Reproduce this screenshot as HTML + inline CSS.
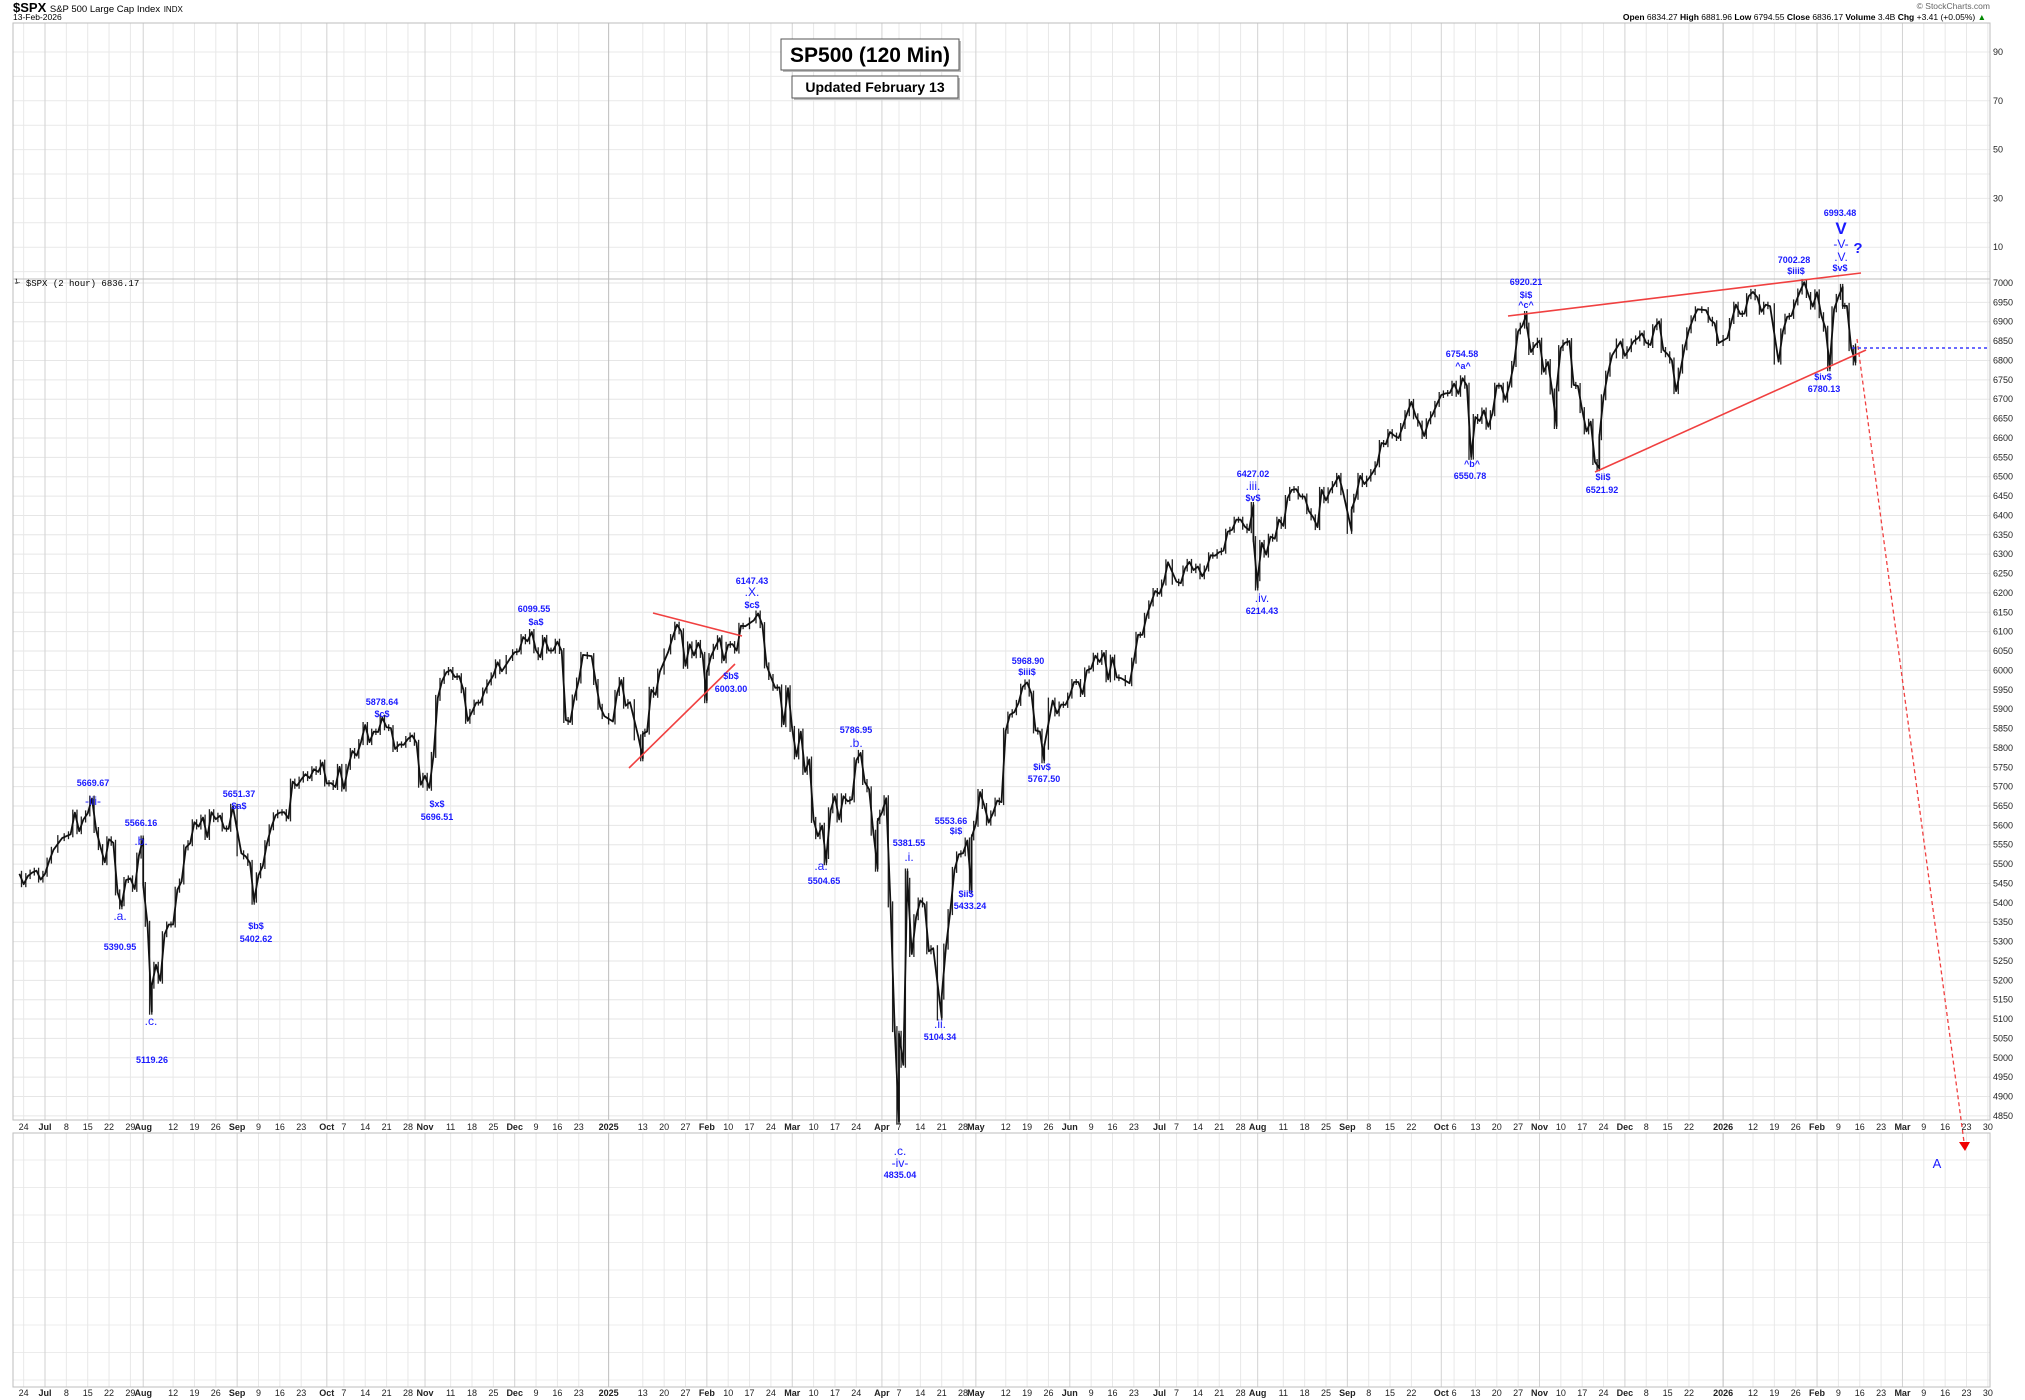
<!DOCTYPE html>
<html><head><meta charset="utf-8"><style>
html,body{margin:0;padding:0;background:#fff;}
svg{display:block;font-family:"Liberation Sans",Arial,sans-serif;}
.lb{fill:#1a1aff;font-weight:bold;font-size:9px;text-anchor:middle;}
.wv{fill:#1a1aff;font-size:12px;text-anchor:middle;}
.ax{font-size:9px;fill:#222;}
</style></head><body>
<svg id="chart" width="2025" height="1400" viewBox="0 0 2025 1400" xmlns="http://www.w3.org/2000/svg">
<rect width="2025" height="1400" fill="#fff"/>
<g id="grid"></g>
<g id="axes"></g>
<g id="series"></g>
<g>
<text x="13" y="12" font-size="13" font-weight="bold">$SPX <tspan font-size="9.5" font-weight="normal">S&amp;P 500 Large Cap Index</tspan> <tspan font-size="8" font-weight="normal">INDX</tspan></text>
<text x="13" y="20" font-size="8.5">13-Feb-2026</text>
<text x="1990" y="9" font-size="8.5" fill="#666" text-anchor="end">© StockCharts.com</text>
<text x="1986" y="20" font-size="8.5" text-anchor="end"><tspan font-weight="bold">Open</tspan> 6834.27 <tspan font-weight="bold">High</tspan> 6881.96 <tspan font-weight="bold">Low</tspan> 6794.55 <tspan font-weight="bold">Close</tspan> 6836.17 <tspan font-weight="bold">Volume</tspan> 3.4B <tspan font-weight="bold">Chg</tspan> +3.41 (+0.05%) <tspan fill="#080">▲</tspan></text>
<text x="15" y="286" font-size="9" font-family="Liberation Mono,monospace">⅟ $SPX (2 hour) 6836.17</text>
</g>
<g>
<rect x="783" y="41" width="178" height="31" fill="#bbb"/>
<rect x="781" y="39" width="178" height="31" fill="#fff" stroke="#555"/>
<text x="870" y="62" font-size="21" font-weight="bold" text-anchor="middle">SP500 (120 Min)</text>
<rect x="794" y="78" width="166" height="22" fill="#bbb"/>
<rect x="792" y="76" width="166" height="22" fill="#fff" stroke="#555"/>
<text x="875" y="92" font-size="14" font-weight="bold" text-anchor="middle">Updated February 13</text>
</g>
<g stroke="#f04040" stroke-width="1.6" fill="none">
<line x1="653" y1="613" x2="742" y2="636"/>
<line x1="629" y1="768" x2="735" y2="664"/>
<line x1="1508" y1="316" x2="1861" y2="273"/>
<line x1="1595" y1="472" x2="1866" y2="350"/>
<line x1="1857" y1="339" x2="1964" y2="1142" stroke-dasharray="4,3" stroke-width="1.3"/>
</g>
<polygon points="1959,1142 1970,1142 1965,1151" fill="#f00000"/>
<line x1="1852" y1="348" x2="1990" y2="348" stroke="#3a3aff" stroke-width="1.6" stroke-dasharray="3,3"/>
<g>
<text class="lb" x="93" y="786">5669.67</text><text class="wv" x="93" y="805">-iii-</text>
<text class="lb" x="141" y="826">5566.16</text><text class="wv" x="141" y="845">.b.</text>
<text class="wv" x="120" y="920">.a.</text><text class="lb" x="120" y="950">5390.95</text>
<text class="wv" x="151" y="1025">.c.</text><text class="lb" x="152" y="1063">5119.26</text>
<text class="lb" x="239" y="797">5651.37</text><text class="lb" x="239" y="809">$a$</text>
<text class="lb" x="256" y="929">$b$</text><text class="lb" x="256" y="942">5402.62</text>
<text class="lb" x="382" y="705">5878.64</text><text class="lb" x="382" y="717">$c$</text>
<text class="lb" x="437" y="807">$x$</text><text class="lb" x="437" y="820">5696.51</text>
<text class="lb" x="534" y="612">6099.55</text><text class="lb" x="536" y="625">$a$</text>
<text class="lb" x="752" y="584">6147.43</text><text class="wv" x="752" y="596">.X.</text><text class="lb" x="752" y="608">$c$</text>
<text class="lb" x="731" y="679">$b$</text><text class="lb" x="731" y="692">6003.00</text>
<text class="lb" x="856" y="733">5786.95</text><text class="wv" x="856" y="747">.b.</text>
<text class="wv" x="821" y="870">.a.</text><text class="lb" x="824" y="884">5504.65</text>
<text class="lb" x="909" y="846">5381.55</text><text class="wv" x="909" y="861">.i.</text>
<text class="lb" x="951" y="824">5553.66</text><text class="lb" x="956" y="834">$i$</text>
<text class="lb" x="966" y="897">$ii$</text><text class="lb" x="970" y="909">5433.24</text>
<text class="wv" x="940" y="1028">.ii.</text><text class="lb" x="940" y="1040">5104.34</text>
<text class="lb" x="1028" y="664">5968.90</text><text class="lb" x="1027" y="675">$iii$</text>
<text class="lb" x="1042" y="770">$iv$</text><text class="lb" x="1044" y="782">5767.50</text>
<text class="wv" x="900" y="1155">.c.</text><text class="wv" x="900" y="1167">-iv-</text><text class="lb" x="900" y="1178">4835.04</text>
<text class="lb" x="1253" y="477">6427.02</text><text class="wv" x="1253" y="490">.iii.</text><text class="lb" x="1253" y="501">$v$</text>
<text class="wv" x="1262" y="602">.iv.</text><text class="lb" x="1262" y="614">6214.43</text>
<text class="lb" x="1462" y="357">6754.58</text><text class="lb" x="1463" y="369">^a^</text>
<text class="lb" x="1472" y="467">^b^</text><text class="lb" x="1470" y="479">6550.78</text>
<text class="lb" x="1526" y="285">6920.21</text><text class="lb" x="1526" y="298">$i$</text><text class="lb" x="1526" y="308">^c^</text>
<text class="lb" x="1603" y="480">$ii$</text><text class="lb" x="1602" y="493">6521.92</text>
<text class="lb" x="1794" y="263">7002.28</text><text class="lb" x="1796" y="274">$iii$</text>
<text class="lb" x="1840" y="216">6993.48</text>
<text x="1841" y="234" fill="#1a1aff" font-size="17" font-weight="bold" text-anchor="middle">V</text>
<text class="wv" x="1841" y="248">-V-</text>
<text x="1858" y="253" fill="#1a1aff" font-size="15" font-weight="bold" text-anchor="middle">?</text>
<text class="wv" x="1841" y="261">.V.</text>
<text class="lb" x="1840" y="271">$v$</text>
<text class="lb" x="1823" y="380">$iv$</text><text class="lb" x="1824" y="392">6780.13</text>
<text x="1937" y="1168" fill="#1a1aff" font-size="13" text-anchor="middle">A</text>
</g>
<script>
const dates = ["2024-06-21","2024-06-24","2024-06-25","2024-06-26","2024-06-27","2024-06-28","2024-07-01","2024-07-02","2024-07-03","2024-07-05","2024-07-08","2024-07-09","2024-07-10","2024-07-11","2024-07-12","2024-07-15","2024-07-16","2024-07-17","2024-07-18","2024-07-19","2024-07-22","2024-07-23","2024-07-24","2024-07-25","2024-07-25","2024-07-26","2024-07-29","2024-07-30","2024-07-31","2024-08-01","2024-08-01","2024-08-02","2024-08-05","2024-08-05","2024-08-06","2024-08-07","2024-08-08","2024-08-09","2024-08-12","2024-08-13","2024-08-14","2024-08-15","2024-08-16","2024-08-19","2024-08-20","2024-08-21","2024-08-22","2024-08-23","2024-08-26","2024-08-27","2024-08-28","2024-08-29","2024-08-30","2024-09-03","2024-09-04","2024-09-05","2024-09-06","2024-09-06","2024-09-09","2024-09-10","2024-09-11","2024-09-12","2024-09-13","2024-09-16","2024-09-17","2024-09-18","2024-09-19","2024-09-20","2024-09-23","2024-09-24","2024-09-25","2024-09-26","2024-09-27","2024-09-30","2024-10-01","2024-10-02","2024-10-03","2024-10-04","2024-10-07","2024-10-08","2024-10-09","2024-10-10","2024-10-11","2024-10-14","2024-10-15","2024-10-16","2024-10-17","2024-10-18","2024-10-21","2024-10-22","2024-10-23","2024-10-24","2024-10-25","2024-10-28","2024-10-29","2024-10-30","2024-10-31","2024-11-01","2024-11-04","2024-11-05","2024-11-06","2024-11-07","2024-11-08","2024-11-11","2024-11-12","2024-11-13","2024-11-14","2024-11-15","2024-11-18","2024-11-19","2024-11-20","2024-11-21","2024-11-22","2024-11-25","2024-11-26","2024-11-27","2024-11-29","2024-12-02","2024-12-03","2024-12-04","2024-12-05","2024-12-06","2024-12-09","2024-12-10","2024-12-11","2024-12-12","2024-12-13","2024-12-16","2024-12-17","2024-12-18","2024-12-19","2024-12-20","2024-12-23","2024-12-24","2024-12-26","2024-12-27","2024-12-30","2024-12-31","2025-01-02","2025-01-03","2025-01-06","2025-01-07","2025-01-08","2025-01-10","2025-01-13","2025-01-13","2025-01-14","2025-01-15","2025-01-16","2025-01-17","2025-01-21","2025-01-22","2025-01-23","2025-01-24","2025-01-27","2025-01-28","2025-01-29","2025-01-30","2025-01-31","2025-02-03","2025-02-03","2025-02-04","2025-02-05","2025-02-06","2025-02-07","2025-02-10","2025-02-11","2025-02-12","2025-02-13","2025-02-14","2025-02-18","2025-02-19","2025-02-20","2025-02-21","2025-02-24","2025-02-25","2025-02-26","2025-02-27","2025-02-28","2025-03-03","2025-03-04","2025-03-05","2025-03-06","2025-03-07","2025-03-10","2025-03-11","2025-03-12","2025-03-13","2025-03-13","2025-03-14","2025-03-17","2025-03-18","2025-03-19","2025-03-20","2025-03-21","2025-03-24","2025-03-25","2025-03-26","2025-03-27","2025-03-28","2025-03-31","2025-03-31","2025-04-01","2025-04-02","2025-04-03","2025-04-04","2025-04-07","2025-04-07","2025-04-08","2025-04-09","2025-04-09","2025-04-10","2025-04-11","2025-04-14","2025-04-15","2025-04-16","2025-04-17","2025-04-21","2025-04-21","2025-04-22","2025-04-23","2025-04-24","2025-04-25","2025-04-28","2025-04-29","2025-04-30","2025-04-30","2025-05-01","2025-05-02","2025-05-05","2025-05-06","2025-05-07","2025-05-08","2025-05-09","2025-05-12","2025-05-13","2025-05-14","2025-05-15","2025-05-16","2025-05-19","2025-05-20","2025-05-21","2025-05-22","2025-05-23","2025-05-23","2025-05-27","2025-05-28","2025-05-29","2025-05-30","2025-06-02","2025-06-03","2025-06-04","2025-06-05","2025-06-06","2025-06-09","2025-06-10","2025-06-11","2025-06-12","2025-06-13","2025-06-16","2025-06-17","2025-06-18","2025-06-20","2025-06-23","2025-06-24","2025-06-25","2025-06-26","2025-06-27","2025-06-30","2025-07-01","2025-07-02","2025-07-03","2025-07-07","2025-07-08","2025-07-09","2025-07-10","2025-07-11","2025-07-14","2025-07-15","2025-07-16","2025-07-17","2025-07-18","2025-07-21","2025-07-22","2025-07-23","2025-07-24","2025-07-25","2025-07-28","2025-07-29","2025-07-30","2025-07-31","2025-07-31","2025-08-01","2025-08-01","2025-08-04","2025-08-05","2025-08-06","2025-08-07","2025-08-08","2025-08-11","2025-08-12","2025-08-13","2025-08-14","2025-08-15","2025-08-18","2025-08-19","2025-08-20","2025-08-21","2025-08-22","2025-08-25","2025-08-26","2025-08-27","2025-08-28","2025-08-29","2025-09-02","2025-09-02","2025-09-03","2025-09-04","2025-09-05","2025-09-08","2025-09-09","2025-09-10","2025-09-11","2025-09-12","2025-09-15","2025-09-16","2025-09-17","2025-09-18","2025-09-19","2025-09-22","2025-09-23","2025-09-24","2025-09-25","2025-09-26","2025-09-29","2025-09-30","2025-10-01","2025-10-02","2025-10-03","2025-10-06","2025-10-07","2025-10-08","2025-10-09","2025-10-10","2025-10-10","2025-10-13","2025-10-14","2025-10-15","2025-10-16","2025-10-17","2025-10-20","2025-10-21","2025-10-22","2025-10-23","2025-10-24","2025-10-27","2025-10-28","2025-10-29","2025-10-29","2025-10-30","2025-10-31","2025-11-03","2025-11-04","2025-11-05","2025-11-06","2025-11-07","2025-11-07","2025-11-10","2025-11-11","2025-11-12","2025-11-13","2025-11-14","2025-11-17","2025-11-18","2025-11-19","2025-11-20","2025-11-21","2025-11-21","2025-11-24","2025-11-25","2025-11-26","2025-11-28","2025-12-01","2025-12-02","2025-12-03","2025-12-04","2025-12-05","2025-12-08","2025-12-09","2025-12-10","2025-12-11","2025-12-12","2025-12-15","2025-12-16","2025-12-17","2025-12-18","2025-12-19","2025-12-22","2025-12-23","2025-12-24","2025-12-26","2025-12-29","2025-12-30","2025-12-31","2026-01-02","2026-01-05","2026-01-06","2026-01-07","2026-01-08","2026-01-09","2026-01-12","2026-01-13","2026-01-14","2026-01-15","2026-01-16","2026-01-20","2026-01-21","2026-01-22","2026-01-23","2026-01-26","2026-01-27","2026-01-28","2026-01-29","2026-01-30","2026-02-02","2026-02-03","2026-02-04","2026-02-05","2026-02-05","2026-02-06","2026-02-09","2026-02-10","2026-02-10","2026-02-11","2026-02-12","2026-02-13","2026-02-13"];
const prices = [5475,5448,5469,5478,5483,5460,5475,5509,5537,5567,5572,5577,5633,5585,5615,5631,5669,5588,5544,5505,5564,5555,5427,5391,5399,5459,5463,5436,5522,5566,5446,5346,5119,5186,5240,5199,5319,5344,5344,5434,5455,5543,5554,5608,5597,5620,5570,5634,5616,5625,5592,5591,5648,5528,5520,5503,5403,5408,5471,5495,5554,5595,5626,5633,5634,5618,5713,5702,5718,5732,5722,5745,5738,5762,5708,5709,5699,5751,5695,5751,5792,5780,5815,5859,5815,5842,5841,5878,5853,5851,5797,5809,5808,5823,5832,5813,5705,5728,5697,5782,5929,5973,5995,6001,5983,5985,5949,5870,5893,5917,5917,5948,5969,5987,6021,5998,6032,6047,6049,6086,6075,6099,6052,6034,6084,6051,6051,6074,6050,5872,5867,5930,5974,6040,6037,5970,5906,5882,5868,5942,5975,5909,5918,5827,5773,5836,5842,5950,5937,5997,6049,6086,6118,6101,6012,6067,6039,6071,6040,5923,5994,6037,6061,6083,6026,6066,6068,6051,6115,6114,6129,6147,6117,6013,5983,5955,5956,5861,5954,5849,5778,5842,5738,5770,5614,5572,5599,5505,5521,5639,5675,5615,5675,5662,5667,5768,5787,5712,5693,5581,5488,5611,5633,5670,5396,5074,4835,5062,4982,5481,5457,5268,5363,5406,5396,5275,5283,5104,5158,5287,5376,5485,5525,5528,5561,5433,5569,5604,5686,5650,5607,5631,5664,5660,5844,5886,5892,5916,5958,5969,5940,5845,5842,5768,5803,5922,5889,5912,5911,5935,5970,5970,5939,6000,6005,6038,6022,6045,5977,6033,5982,5980,5967,6025,6092,6092,6141,6173,6205,6198,6227,6279,6229,6225,6263,6280,6259,6268,6243,6263,6297,6296,6305,6309,6358,6363,6389,6389,6371,6362,6427,6339,6214,6238,6329,6299,6345,6340,6389,6373,6445,6466,6468,6449,6449,6411,6395,6370,6466,6439,6465,6481,6502,6460,6360,6415,6448,6502,6481,6495,6512,6532,6587,6584,6615,6606,6600,6631,6664,6693,6656,6637,6605,6643,6661,6688,6711,6715,6716,6740,6714,6754,6735,6551,6552,6654,6644,6671,6629,6664,6735,6735,6699,6738,6791,6875,6890,6920,6890,6822,6840,6851,6771,6796,6720,6631,6728,6832,6846,6850,6737,6734,6672,6617,6642,6538,6522,6602,6705,6766,6813,6849,6812,6829,6849,6857,6870,6846,6840,6886,6901,6827,6816,6800,6721,6774,6834,6878,6909,6932,6930,6905,6896,6845,6858,6902,6944,6920,6921,6966,6977,6963,6926,6944,6940,6797,6875,6913,6915,6950,6978,7002,6969,6939,6976,6917,6882,6780,6798,6932,6964,6990,6941,6941,6832,6795,6836];
const priceTicks = [4850,4900,4950,5000,5050,5100,5150,5200,5250,5300,5350,5400,5450,5500,5550,5600,5650,5700,5750,5800,5850,5900,5950,6000,6050,6100,6150,6200,6250,6300,6350,6400,6450,6500,6550,6600,6650,6700,6750,6800,6850,6900,6950,7000];
const upperTicks = [90,70,50,30,10];
const monthNames = ["Jan","Feb","Mar","Apr","May","Jun","Jul","Aug","Sep","Oct","Nov","Dec"];

const NS = "http://www.w3.org/2000/svg";
const L = 13, R = 1990, UT = 23, MT = 279, MB = 1120, LT = 1133, LB = 1387;
const BASE = Date.UTC(2024, 6, 1);
function wIdx(t) { const d = Math.round((t - BASE) / 864e5); const w = Math.floor(d / 7); const r = d - w * 7; return w * 5 + Math.min(r, 5); }
function parseD(s) { const p = s.split("-"); return Date.UTC(+p[0], +p[1] - 1, +p[2]); }
function xOf(s) { return 45 + wIdx(parseD(s)) * 4.27; }
function xIdx(i) { return 45 + i * 4.27; }
function yOf(p) { return MT + 4 + (7000 - p) * 0.3874; }
function yUp(v) { return 52 + (90 - v) * 2.44; }
function mk(tag, attrs, parent) { const e = document.createElementNS(NS, tag); for (const k in attrs) e.setAttribute(k, attrs[k]); parent.appendChild(e); return e; }

const grid = document.getElementById("grid");
const axes = document.getElementById("axes");
const series = document.getElementById("series");

for (let v = 0; v <= 90; v += 10) { const y = yUp(v); if (y > UT && y < MT) mk("line", {x1: L, x2: R, y1: y, y2: y, stroke: "#e9e9e9"}, grid); }
priceTicks.forEach(p => { const y = yOf(p); mk("line", {x1: L, x2: R, y1: y, y2: y, stroke: "#e6e6e6"}, grid); });
for (let y = 1160; y < LB; y += 27.5) mk("line", {x1: L, x2: R, y1: y, y2: y, stroke: "#ececec"}, grid);

const firstIdx = -6, lastIdx = 455;
function dateOfIdx(i) { const w = Math.floor(i / 5), r = i - w * 5; return new Date(BASE + (w * 7 + r) * 864e5); }
const monthStarts = [];
let prevM = -1;
for (let i = firstIdx; i <= lastIdx; i++) { const d = dateOfIdx(i); if (d.getUTCMonth() !== prevM) { if (prevM !== -1) monthStarts.push(i); prevM = d.getUTCMonth(); } }
for (let i = firstIdx; i <= lastIdx; i++) {
  const d = dateOfIdx(i); const x = xIdx(i);
  if (x < L || x > R + 4) continue;
  const isMS = monthStarts.includes(i);
  let label = null, bold = false;
  if (isMS) { const m = d.getUTCMonth(); label = m === 0 ? String(d.getUTCFullYear()) : monthNames[m]; bold = true; }
  else if (d.getUTCDay() === 1) {
    const near = monthStarts.some(ms => { const isJan = dateOfIdx(ms).getUTCMonth() === 0; const w = isJan ? 3 : 2; return i - ms >= -w && i - ms <= w; });
    if (!near) label = String(d.getUTCDate());
  }
  if (label === null) continue;
  if (x <= R) {
    const col = isMS ? (d.getUTCMonth() === 0 ? "#bdbdbd" : "#d2d2d2") : "#e8e8e8";
    [[UT, MT], [MT, MB], [LT, LB]].forEach(([a, b]) => mk("line", {x1: x, x2: x, y1: a, y2: b, stroke: col}, grid));
  }
  [1130, 1396].forEach(y => {
    const t = mk("text", {x: x, y: y, "text-anchor": "middle", class: "ax", "font-weight": bold ? "bold" : "normal"}, axes);
    t.textContent = label;
  });
}

[[UT, MT], [MT, MB], [LT, LB]].forEach(([a, b]) => { const r = mk("rect", {x: L, y: a, width: R - L, height: b - a, fill: "none", stroke: "#bdbdbd"}, axes);   });

priceTicks.forEach(p => { const t = mk("text", {x: R + 3, y: yOf(p) + 3, class: "ax"}, axes); t.textContent = p;   });
upperTicks.forEach(v => { const t = mk("text", {x: R + 3, y: yUp(v) + 3, class: "ax"}, axes); t.textContent = v;   });

let pts = [];
for (let i = 0; i < prices.length; i++) {
  const x = xOf(dates[i]), y = yOf(prices[i]);
  pts.push(x.toFixed(1) + "," + y.toFixed(1));
  if (i > 0) {
    const px = xOf(dates[i - 1]), py = yOf(prices[i - 1]);
    const bar = mk("line", {x1: ((px + x) / 2).toFixed(1), x2: ((px + x) / 2).toFixed(1), y1: (Math.min(py, y) - 3).toFixed(1), y2: (Math.max(py, y) + 3).toFixed(1), stroke: "#222", "stroke-width": 1.3}, series);
    
    
  }
}
const line = mk("polyline", {points: pts.join(" "), fill: "none", stroke: "#111", "stroke-width": 1.8, "stroke-linejoin": "round"}, series);


</script>
</svg>
</body></html>
